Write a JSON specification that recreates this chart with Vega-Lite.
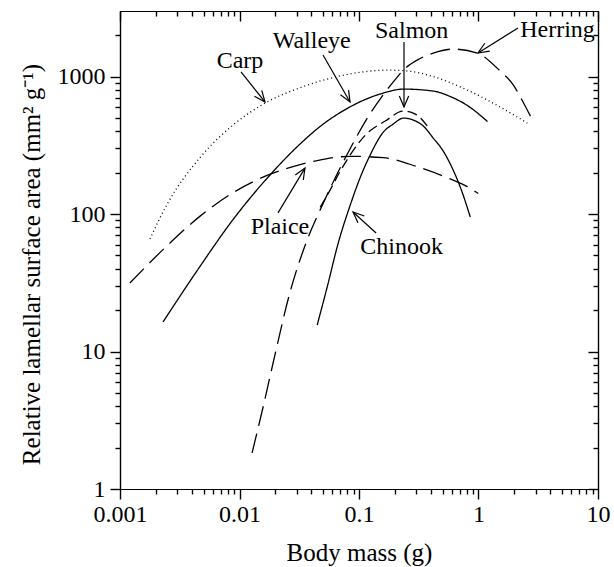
{
  "$schema": "https://vega.github.io/schema/vega-lite/v6.json",
  "width": 478,
  "height": 478,
  "autosize": {"type": "none"},
  "padding": {"left": 120, "top": 11, "right": 16, "bottom": 78},
  "background": "white",
  "config": {
    "view": {"stroke": null},
    "font": "Liberation Serif",
    "axis": {
      "grid": false,
      "ticks": true,
      "tickOpacity": 1,
      "tickColor": "black",
      "tickWidth": 1.4,
      "domainColor": "black",
      "domainWidth": 1.2,
      "labelFont": "Liberation Serif",
      "labelFontSize": 24,
      "labelColor": "black",
      "titleFont": "Liberation Serif",
      "titleFontSize": 25,
      "titleFontWeight": "normal",
      "titleColor": "black",
      "labelFlush": false,
      "labelOverlap": false,
      "labelBound": false
    }
  },
  "datasets": {
    "curves": [
      {"species": "Carp", "mass": 0.00178, "area": 65.8},
      {"species": "Carp", "mass": 0.00248, "area": 118},
      {"species": "Carp", "mass": 0.00468, "area": 258},
      {"species": "Carp", "mass": 0.00883, "area": 444},
      {"species": "Carp", "mass": 0.0170, "area": 653},
      {"species": "Carp", "mass": 0.0322, "area": 830},
      {"species": "Carp", "mass": 0.0608, "area": 985},
      {"species": "Carp", "mass": 0.117, "area": 1090},
      {"species": "Carp", "mass": 0.172, "area": 1114},
      {"species": "Carp", "mass": 0.269, "area": 1092},
      {"species": "Carp", "mass": 0.418, "area": 1000},
      {"species": "Carp", "mass": 0.805, "area": 798},
      {"species": "Carp", "mass": 1.52, "area": 600},
      {"species": "Carp", "mass": 2.56, "area": 459},

      {"species": "Walleye", "mass": 0.00229, "area": 16.4},
      {"species": "Walleye", "mass": 0.00468, "area": 41.7},
      {"species": "Walleye", "mass": 0.00883, "area": 91.2},
      {"species": "Walleye", "mass": 0.0170, "area": 182},
      {"species": "Walleye", "mass": 0.0322, "area": 324},
      {"species": "Walleye", "mass": 0.0447, "area": 417},
      {"species": "Walleye", "mass": 0.0844, "area": 603},
      {"species": "Walleye", "mass": 0.160, "area": 759},
      {"species": "Walleye", "mass": 0.235, "area": 811},
      {"species": "Walleye", "mass": 0.418, "area": 785},
      {"species": "Walleye", "mass": 0.580, "area": 716},
      {"species": "Walleye", "mass": 0.805, "area": 617},
      {"species": "Walleye", "mass": 1.19, "area": 471},

      {"species": "Plaice", "mass": 0.00121, "area": 31.5},
      {"species": "Plaice", "mass": 0.00248, "area": 58.9},
      {"species": "Plaice", "mass": 0.00468, "area": 96.6},
      {"species": "Plaice", "mass": 0.00883, "area": 143},
      {"species": "Plaice", "mass": 0.0170, "area": 191},
      {"species": "Plaice", "mass": 0.0322, "area": 229},
      {"species": "Plaice", "mass": 0.0447, "area": 245},
      {"species": "Plaice", "mass": 0.0844, "area": 263},
      {"species": "Plaice", "mass": 0.160, "area": 257},
      {"species": "Plaice", "mass": 0.307, "area": 221},
      {"species": "Plaice", "mass": 0.580, "area": 180},
      {"species": "Plaice", "mass": 0.805, "area": 158.5},
      {"species": "Plaice", "mass": 0.995, "area": 141},

      {"species": "Herring", "mass": 0.01275, "area": 1.83},
      {"species": "Herring", "mass": 0.01576, "area": 3.95},
      {"species": "Herring", "mass": 0.0191, "area": 8.25},
      {"species": "Herring", "mass": 0.0265, "area": 27.1},
      {"species": "Herring", "mass": 0.0368, "area": 64.7},
      {"species": "Herring", "mass": 0.0502, "area": 120},
      {"species": "Herring", "mass": 0.0766, "area": 255},
      {"species": "Herring", "mass": 0.119, "area": 508},
      {"species": "Herring", "mass": 0.209, "area": 992},
      {"species": "Herring", "mass": 0.235, "area": 1115},
      {"species": "Herring", "mass": 0.307, "area": 1318},
      {"species": "Herring", "mass": 0.418, "area": 1482},
      {"species": "Herring", "mass": 0.615, "area": 1585},
      {"species": "Herring", "mass": 0.977, "area": 1482},
      {"species": "Herring", "mass": 1.52, "area": 1096},
      {"species": "Herring", "mass": 1.96, "area": 867},
      {"species": "Herring", "mass": 2.24, "area": 710},
      {"species": "Herring", "mass": 2.88, "area": 467},

      {"species": "Salmon", "mass": 0.0473, "area": 112},
      {"species": "Salmon", "mass": 0.0574, "area": 150},
      {"species": "Salmon", "mass": 0.0696, "area": 205},
      {"species": "Salmon", "mass": 0.0844, "area": 269},
      {"species": "Salmon", "mass": 0.113, "area": 375},
      {"species": "Salmon", "mass": 0.166, "area": 475},
      {"species": "Salmon", "mass": 0.235, "area": 561},
      {"species": "Salmon", "mass": 0.296, "area": 534},
      {"species": "Salmon", "mass": 0.373, "area": 437},

      {"species": "Chinook", "mass": 0.0447, "area": 15.6},
      {"species": "Chinook", "mass": 0.0542, "area": 29.5},
      {"species": "Chinook", "mass": 0.0670, "area": 61.5},
      {"species": "Chinook", "mass": 0.0844, "area": 116},
      {"species": "Chinook", "mass": 0.102, "area": 183},
      {"species": "Chinook", "mass": 0.124, "area": 269},
      {"species": "Chinook", "mass": 0.160, "area": 395},
      {"species": "Chinook", "mass": 0.193, "area": 451},
      {"species": "Chinook", "mass": 0.235, "area": 499},
      {"species": "Chinook", "mass": 0.284, "area": 483},
      {"species": "Chinook", "mass": 0.345, "area": 437},
      {"species": "Chinook", "mass": 0.418, "area": 357},
      {"species": "Chinook", "mass": 0.507, "area": 287},
      {"species": "Chinook", "mass": 0.603, "area": 216},
      {"species": "Chinook", "mass": 0.718, "area": 150},
      {"species": "Chinook", "mass": 0.854, "area": 95}
    ],
    "labels": [
      {"name": "Carp", "lx": 0.0101, "ly": 1155},
      {"name": "Walleye", "lx": 0.0402, "ly": 1615},
      {"name": "Salmon", "lx": 0.276, "ly": 1909},
      {"name": "Herring", "lx": 4.58, "ly": 1941},
      {"name": "Plaice", "lx": 0.0218, "ly": 71.6},
      {"name": "Chinook", "lx": 0.227, "ly": 51.2}
    ],
    "arrows": [
      {"name": "Carp", "sx": 0.0103, "sy": 1080, "tx": 0.01634, "ty": 654},
      {"name": "Walleye", "sx": 0.0500, "sy": 1436, "tx": 0.0841, "ty": 654},
      {"name": "Salmon", "sx": 0.238, "sy": 1785, "tx": 0.238, "ty": 601},
      {"name": "Herring", "sx": 2.14, "sy": 2256, "tx": 0.990, "ty": 1484},
      {"name": "Plaice", "sx": 0.0210, "sy": 102, "tx": 0.0353, "ty": 216},
      {"name": "Chinook", "sx": 0.139, "sy": 72.8, "tx": 0.0891, "ty": 103.5}
    ]
  },
  "resolve": {"axis": {"x": "independent", "y": "independent"}},
  "layer": [
    {
      "data": {"name": "curves"},
      "mark": {"type": "line", "interpolate": "monotone", "stroke": "black", "strokeWidth": 1.3},
      "encoding": {
        "x": {
          "field": "mass", "type": "quantitative",
          "scale": {"type": "log", "domain": [0.001, 10], "nice": false},
          "axis": {"orient": "bottom", "values": [0.001, 0.01, 0.1, 1, 10], "format": "~g", "tickSize": 10, "labelPadding": 3, "title": "Body mass (g)", "titlePadding": 14}
        },
        "y": {
          "field": "area", "type": "quantitative",
          "scale": {"type": "log", "domain": [1, 3000], "nice": false},
          "axis": {"orient": "left", "values": [1, 10, 100, 1000], "format": "~g", "tickSize": 10, "labelPadding": 5, "title": "Relative lamellar surface area (mm² g⁻¹)", "titleFontSize": 25, "titlePadding": 13, "titleY": 253}
        },
        "detail": {"field": "species", "type": "nominal"},
        "strokeDash": {
          "field": "species", "type": "nominal",
          "scale": {
            "domain": ["Carp", "Walleye", "Plaice", "Herring", "Salmon", "Chinook"],
            "range": [[1, 3], [1, 0], [20, 8], [20, 8], [10, 5], [1, 0]]
          },
          "legend": null
        }
      }
    },
    {
      "data": {"name": "labels"},
      "mark": {"type": "text", "font": "Liberation Serif", "fontSize": 24, "align": "center", "baseline": "alphabetic", "color": "black"},
      "encoding": {
        "x": {
          "field": "lx", "type": "quantitative",
          "scale": {"type": "log", "domain": [0.001, 10], "nice": false},
          "axis": {"orient": "bottom", "values": [0.002, 0.003, 0.004, 0.005, 0.006, 0.007, 0.008, 0.009, 0.02, 0.03, 0.04, 0.05, 0.06, 0.07, 0.08, 0.09, 0.2, 0.3, 0.4, 0.5, 0.6, 0.7, 0.8, 0.9, 2, 3, 4, 5, 6, 7, 8, 9], "tickSize": 5, "labels": false, "title": null}
        },
        "y": {
          "field": "ly", "type": "quantitative",
          "scale": {"type": "log", "domain": [1, 3000], "nice": false},
          "axis": {"orient": "left", "values": [2, 3, 4, 5, 6, 7, 8, 9, 20, 30, 40, 50, 60, 70, 80, 90, 200, 300, 400, 500, 600, 700, 800, 900, 2000], "tickSize": 5, "labels": false, "title": null}
        },
        "text": {"field": "name", "type": "nominal"}
      }
    },
    {
      "data": {"name": "arrows"},
      "mark": {"type": "rule", "stroke": "black", "strokeWidth": 1.2},
      "encoding": {
        "x": {
          "field": "sx", "type": "quantitative",
          "scale": {"type": "log", "domain": [0.001, 10], "nice": false},
          "axis": {"orient": "bottom", "offset": -478, "values": [0.001, 0.01, 0.1, 1, 10], "tickSize": 10, "labels": false, "title": null}
        },
        "y": {
          "field": "sy", "type": "quantitative",
          "scale": {"type": "log", "domain": [1, 3000], "nice": false},
          "axis": {"orient": "left", "offset": -478, "values": [1, 10, 100, 1000], "tickSize": 10, "labels": false, "title": null}
        },
        "x2": {"field": "tx"},
        "y2": {"field": "ty"}
      }
    },
    {
      "data": {"name": "arrows"},
      "transform": [
        {"calculate": "atan2(-(478/log(3000))*log(datum.ty/datum.sy), (478/log(10000))*log(datum.tx/datum.sx))*180/PI", "as": "ang"}
      ],
      "mark": {"type": "point", "shape": "M-2,-0.85L0,0L-2,0.85", "filled": false, "stroke": "black", "strokeWidth": 1.2, "size": 121, "opacity": 1},
      "encoding": {
        "x": {
          "field": "tx", "type": "quantitative",
          "scale": {"type": "log", "domain": [0.001, 10], "nice": false},
          "axis": {"orient": "bottom", "offset": -478, "values": [0.002, 0.003, 0.004, 0.005, 0.006, 0.007, 0.008, 0.009, 0.02, 0.03, 0.04, 0.05, 0.06, 0.07, 0.08, 0.09, 0.2, 0.3, 0.4, 0.5, 0.6, 0.7, 0.8, 0.9, 2, 3, 4, 5, 6, 7, 8, 9], "tickSize": 5, "labels": false, "title": null}
        },
        "y": {
          "field": "ty", "type": "quantitative",
          "scale": {"type": "log", "domain": [1, 3000], "nice": false},
          "axis": {"orient": "left", "offset": -478, "values": [2, 3, 4, 5, 6, 7, 8, 9, 20, 30, 40, 50, 60, 70, 80, 90, 200, 300, 400, 500, 600, 700, 800, 900, 2000], "tickSize": 5, "labels": false, "title": null}
        },
        "angle": {"field": "ang", "type": "quantitative", "scale": null}
      }
    }
  ]
}
